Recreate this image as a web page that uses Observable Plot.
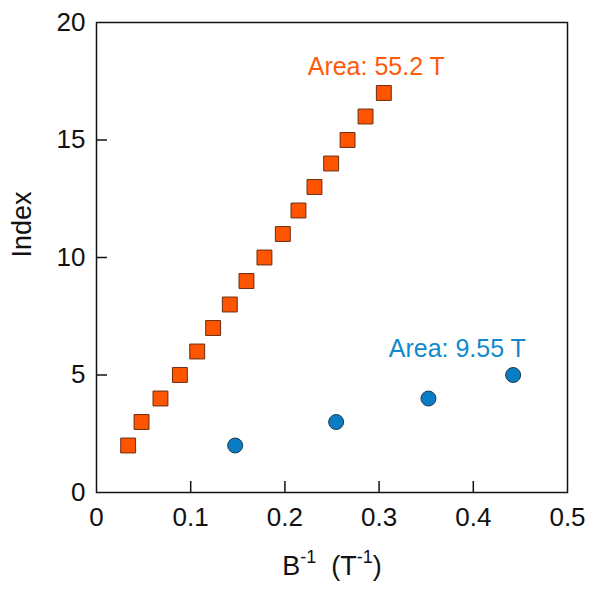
<!DOCTYPE html>
<html>
<head>
<meta charset="utf-8">
<script src="https://cdn.jsdelivr.net/npm/d3@7"></script>
<script src="https://cdn.jsdelivr.net/npm/@observablehq/plot@0.6"></script>
<style>
  html, body { margin: 0; padding: 0; background: #fff; }
  #chart { width: 592px; height: 592px; }
</style>
</head>
<body>
<div id="chart"></div>
<script>
// Data
const squareX = [0.0336, 0.0478, 0.0679, 0.0885, 0.1069, 0.1238, 0.1415, 0.1592, 0.1783, 0.1978, 0.2144, 0.2314, 0.2491, 0.2665, 0.2856, 0.3050];
const squareIndex = [2, 3, 4, 5, 6, 7, 8, 9, 10, 11, 12, 13, 14, 15, 16, 17];
const circleX = [0.1472, 0.2544, 0.3524, 0.4423];
const circleIndex = [2, 3, 4, 5];
const xTicks = [0, 0.1, 0.2, 0.3, 0.4, 0.5];
const yTicks = [0, 5, 10, 15, 20];
const annotations = ["Area: 55.2 T", "Area: 9.55 T"];
const annotationX = [0.297, 0.383];
const annotationY = [18.1, 6.1];
const xLabel = "B-1 (T-1)";
const yLabel = "Index";

const orange = "#ff5500";
const blue = "#0a7cc4";
const orangeText = "#ff5a0a";
const blueText = "#1188cc";

const squares = squareX.map((x, i) => ({x, y: squareIndex[i]}));
const circles = circleX.map((x, i) => ({x, y: circleIndex[i]}));
const ann = annotations.map((t, i) => ({t, x: annotationX[i], y: annotationY[i], c: i === 0 ? orangeText : blueText}));

const font = "'Liberation Sans', Arial, Helvetica, sans-serif";

const chart = Plot.plot({
  width: 592,
  height: 592,
  marginLeft: 96,
  marginRight: 25,
  marginTop: 22,
  marginBottom: 100,
  style: {fontFamily: font, background: "#fff", color: "#111"},
  x: {domain: [0, 0.5]},
  y: {domain: [0, 20]},
  marks: [
    Plot.axisX({ticks: xTicks, tickSize: 0, tickPadding: 15, fontSize: 26, label: null, tickFormat: d => String(d)}),
    Plot.axisY({ticks: yTicks, tickSize: 0, tickPadding: 11, fontSize: 26, label: null}),
    Plot.tickX(xTicks.slice(1, -1), {x: d => d, insetTop: 459, stroke: "#111", strokeWidth: 1.5}),
    Plot.tickY(yTicks.slice(1, -1), {y: d => d, insetRight: 460, stroke: "#111", strokeWidth: 1.5}),
    Plot.frame({stroke: "#111", strokeWidth: 1.5}),
    Plot.dot(squares, {x: "x", y: "y", symbol: "square", r: 8.4, fill: orange, stroke: "#6b2a10", strokeWidth: 1}),
    Plot.dot(circles, {x: "x", y: "y", symbol: "circle", r: 7.5, fill: blue, stroke: "#1d3a4d", strokeWidth: 1}),
    Plot.text(ann, {x: "x", y: "y", text: "t", fill: "c", fontSize: 25}),
    Plot.text([xLabel], {text: d => d, frameAnchor: "bottom", dy: 82, fontSize: 27, fill: "#111", className: "xlabel"}),
    Plot.text([yLabel], {text: d => d, frameAnchor: "left", rotate: -90, dx: -74, fontSize: 27, fill: "#111"})
  ]
});

document.getElementById("chart").appendChild(chart);

// Superscripts in the x-axis label
const xl = chart.querySelector("g.xlabel text, .xlabel text");
if (xl) {
  xl.textContent = "";
  const ns = "http://www.w3.org/2000/svg";
  const parts = [["B", 0, null], ["-1", -12, 18], ["\u00a0\u00a0(T", 12, null], ["-1", -12, 18], [")", 12, null]];
  for (const [s, dy, fs] of parts) {
    const t = document.createElementNS(ns, "tspan");
    t.textContent = s;
    if (dy) t.setAttribute("dy", dy);
    if (fs) t.setAttribute("font-size", fs);
    xl.appendChild(t);
  }
}
</script>
</body>
</html>
